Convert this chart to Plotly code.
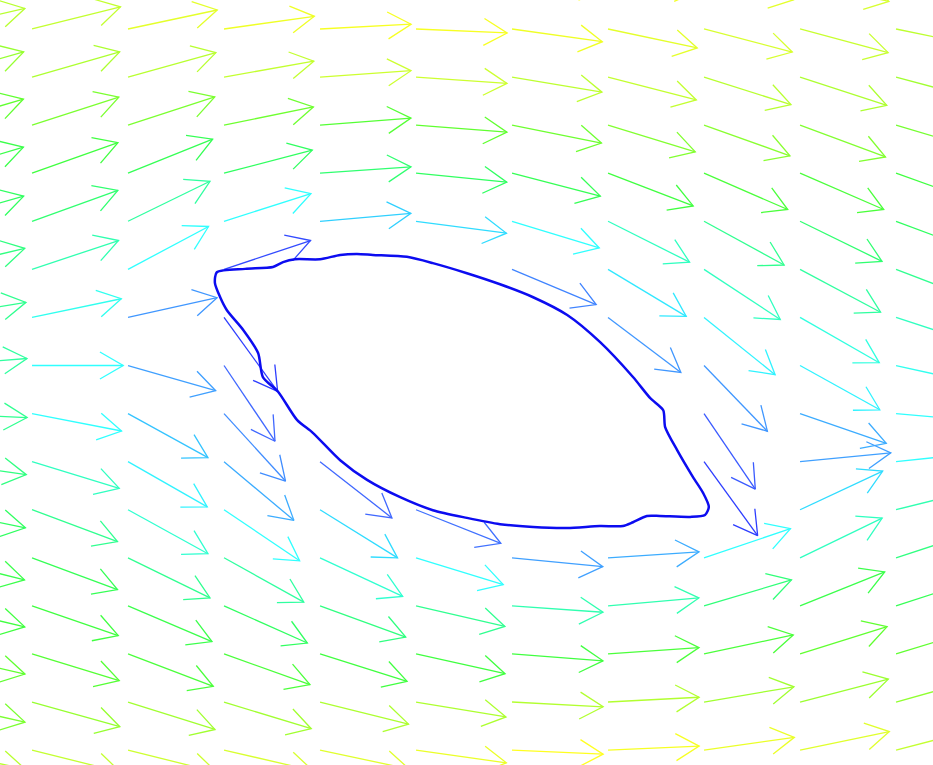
import math
import plotly.graph_objects as go
import plotly.colors as pc

# Sampling grid (columns / rows of the velocity field)
x_cols = [-2, 0, 2, 4, 6, 8, 10, 12, 14, 16, 18]
y_rows = [1, 0, -1, -2, -3, -4, -5, -6, -7, -8, -9, -10, -11, -12, -13, -14, -15]

# Flow direction at each grid node, degrees counter-clockwise from +x (None = inside the body)
flow_angle = [
    [11, 12, 10, 7, 3, -2, -5, -6, -12, -13, -12],
    [13, 14, 12, 8, 3, -2.5, -8, -12, -14.6, -15, -11.6],
    [16, 16, 15.5, 10, 4, -4, -9.5, -14.5, -17.6, -18, -15],
    [16.6, 17.8, 18, 11.5, 4.4, -4.4, -11.3, -17, -19.6, -20.4, -16.5],
    [16.6, 19.6, 21.9, 14.6, 4, -5.6, -14.5, -21, -23.4, -23.4, -19.5],
    [16, 19.8, 26, 17.6, 5, -7.5, -17, -26.6, -28.6, -26, -20.5],
    [13.3, 18.4, 28, 18.4, None, None, -22.7, -31, -33.3, -28, -21],
    [9.5, 11.8, 12.5, -54, None, None, None, -37, -38.8, -29.7, -18],
    [4.4, 0, -16, -56, None, None, None, None, -46, -29, -12.6],
    [-2.5, -11, -28.8, -47.6, None, None, None, None, -55.8, -19, -5],
    [-8.2, -17, -29.7, -40, -38, None, None, None, -54, 5.5, 6],
    [-11.4, -20.4, -28.8, -34, -31.8, -21.6, None, None, None, 25, 14],
    [-14, -20.4, -26, -29, -25, -17, -5.6, 3.7, 18.6, 25.8, 18],
    [-13.3, -19, -23, -24, -20, -13, -4, 5, 16.5, 21.8, 18],
    [-12.7, -17, -20.8, -19.6, -17.4, -12.5, -4.3, 4, 12, 17.4, 17],
    [-12.7, -15.7, -17.5, -17, -14, -9.4, -3, 3, 9.6, 14.5, 15.5],
    [-12, -14, -14, -13, -12, -8, -2.5, 2.5, 8, 11.7, 14.6],
]

# Normalised flow speed at each grid node (0 = slowest, 1 = fastest)
flow_speed = [
    [0.86, 0.88, 0.95, 0.98, 1.0, 1.0, 1.0, 0.97, 0.93, 0.90, 0.88],
    [0.84, 0.86, 0.93, 0.96, 0.98, 0.98, 0.96, 0.93, 0.90, 0.87, 0.85],
    [0.78, 0.82, 0.84, 0.86, 0.88, 0.88, 0.85, 0.86, 0.84, 0.82, 0.80],
    [0.70, 0.74, 0.74, 0.72, 0.68, 0.70, 0.72, 0.75, 0.76, 0.75, 0.73],
    [0.62, 0.64, 0.60, 0.58, 0.56, 0.58, 0.60, 0.64, 0.66, 0.66, 0.64],
    [0.58, 0.56, 0.50, 0.38, 0.30, 0.32, 0.38, 0.46, 0.52, 0.56, 0.58],
    [0.54, 0.48, 0.38, 0.06, None, None, 0.16, 0.34, 0.46, 0.50, 0.52],
    [0.52, 0.40, 0.20, 0.04, None, None, None, 0.20, 0.36, 0.42, 0.46],
    [0.50, 0.38, 0.22, 0.10, None, None, None, None, 0.20, 0.36, 0.40],
    [0.52, 0.38, 0.28, 0.18, None, None, None, None, 0.08, 0.24, 0.38],
    [0.54, 0.46, 0.36, 0.24, 0.10, None, None, None, 0.04, 0.22, 0.38],
    [0.58, 0.52, 0.44, 0.38, 0.32, 0.12, None, None, None, 0.32, 0.48],
    [0.62, 0.60, 0.52, 0.50, 0.44, 0.38, 0.22, 0.24, 0.38, 0.46, 0.54],
    [0.64, 0.64, 0.62, 0.58, 0.54, 0.52, 0.48, 0.48, 0.55, 0.62, 0.60],
    [0.70, 0.68, 0.66, 0.66, 0.64, 0.64, 0.64, 0.66, 0.66, 0.70, 0.70],
    [0.74, 0.78, 0.80, 0.80, 0.82, 0.82, 0.83, 0.83, 0.80, 0.79, 0.77],
    [0.84, 0.86, 0.88, 0.90, 0.92, 0.95, 1.00, 0.98, 0.95, 0.92, 0.86],
]

# Body outline (closed curve)
body_x = [3.85, 4.44, 5.02, 5.23, 5.48, 6.00, 6.42, 6.77, 7.10, 7.81, 8.35, 9.06,
          9.75, 10.44, 11.15, 11.83, 12.52, 12.88, 13.15, 13.19, 13.44, 13.77, 13.98,
          14.10, 14.02, 13.71, 13.08, 12.81, 12.52, 12.31, 11.83, 11.15, 10.44, 9.75,
          9.06, 8.35, 7.67, 6.98, 6.42, 5.85, 5.52, 5.13, 4.81, 4.71, 4.40, 4.06,
          3.92, 3.81, 3.85]
body_y = [-5.06, -4.99, -4.95, -4.85, -4.79, -4.79, -4.70, -4.68, -4.70, -4.74, -4.87,
          -5.08, -5.31, -5.58, -5.95, -6.51, -7.24, -7.68, -7.93, -8.28, -8.76, -9.32,
          -9.65, -9.94, -10.11, -10.15, -10.13, -10.13, -10.26, -10.34, -10.34, -10.38,
          -10.36, -10.30, -10.17, -10.01, -9.74, -9.38, -8.97, -8.40, -8.13, -7.55,
          -7.24, -6.74, -6.26, -5.85, -5.58, -5.28, -5.06]

speed_scale = [
    [0.00, "#2020ff"], [0.10, "#4068ff"], [0.22, "#40a0ff"], [0.30, "#30d0ff"],
    [0.38, "#30ffff"], [0.46, "#30ffc0"], [0.52, "#30ff90"], [0.58, "#30ff60"],
    [0.64, "#40ff40"], [0.70, "#60ff30"], [0.77, "#90ff30"], [0.84, "#b8ff30"],
    [0.90, "#d8ff30"], [1.00, "#ffff20"],
]
speed_scale_rgb = [[s, "rgb(%d,%d,%d)" % pc.hex_to_rgb(c)] for s, c in speed_scale]

ARROW_LEN = 1.9
HEAD_LEN = 0.56
HEAD_HALF_ANGLE = math.radians(30)

fig = go.Figure()

for j, y0 in enumerate(y_rows):
    for i, x0 in enumerate(x_cols):
        ang = flow_angle[j][i]
        spd = flow_speed[j][i]
        if ang is None or spd is None:
            continue
        th = math.radians(ang)
        x1 = x0 + ARROW_LEN * math.cos(th)
        y1 = y0 + ARROW_LEN * math.sin(th)
        back = th + math.pi
        bx1 = x1 + HEAD_LEN * math.cos(back + HEAD_HALF_ANGLE)
        by1 = y1 + HEAD_LEN * math.sin(back + HEAD_HALF_ANGLE)
        bx2 = x1 + HEAD_LEN * math.cos(back - HEAD_HALF_ANGLE)
        by2 = y1 + HEAD_LEN * math.sin(back - HEAD_HALF_ANGLE)
        color = pc.sample_colorscale(speed_scale_rgb, [spd])[0]
        fig.add_trace(go.Scatter(
            x=[x0, x1, None, bx1, x1, bx2],
            y=[y0, y1, None, by1, y1, by2],
            mode="lines",
            line=dict(color=color, width=1.3),
            hoverinfo="skip",
            showlegend=False,
        ))

fig.add_trace(go.Scatter(
    x=body_x, y=body_y, mode="lines",
    line=dict(color="#0c0cf0", width=2.5, shape="spline", smoothing=0.7),
    hoverinfo="skip", showlegend=False,
))

fig.update_layout(
    width=933, height=765,
    margin=dict(l=0, r=0, t=0, b=0),
    paper_bgcolor="white", plot_bgcolor="white",
    xaxis=dict(range=[-0.667, 18.77], visible=False, fixedrange=True),
    yaxis=dict(range=[-15.31, 0.603], visible=False, fixedrange=True),
    showlegend=False,
)

fig.write_html("out.html")
